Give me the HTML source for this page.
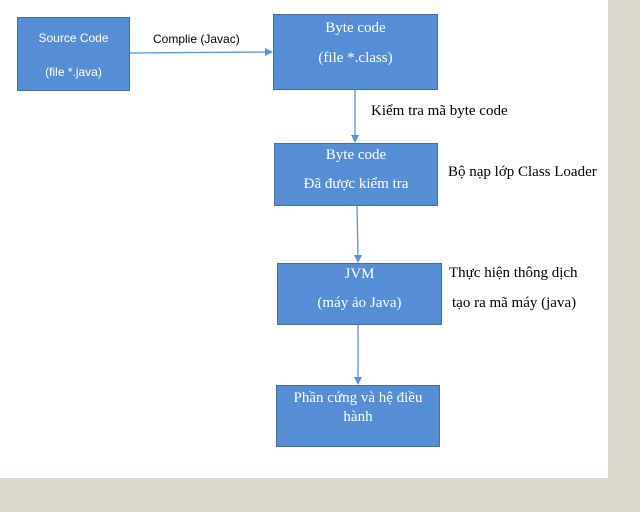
<!DOCTYPE html>
<html><head><meta charset="utf-8"><style>
body{margin:0;width:640px;height:512px;background:#dad8cc;position:relative;overflow:hidden;font-family:"Liberation Serif",serif}
.w{position:absolute;left:0;top:0;width:608px;height:478px;background:#fff}
.b{position:absolute;background:#558ed5;border:1px solid #41719c;color:#fff;text-align:center;box-sizing:border-box;font-size:15px}
.t{position:absolute;font-size:15px;color:#000;white-space:nowrap}
.s{font-family:"Liberation Sans",sans-serif;font-size:12px}
</style></head><body>
<div class="w"></div>
<div class="b s" style="left:17px;top:17px;width:113px;height:74px"><div style="position:absolute;top:13px;width:100%">Source Code</div><div style="position:absolute;top:47px;width:100%">(file *.java)</div></div>
<div class="b" style="left:273px;top:14px;width:165px;height:76px"><div style="position:absolute;top:5px;width:100%">Byte code</div><div style="position:absolute;top:35px;width:100%">(file *.class)</div></div>
<div class="b" style="left:274px;top:143px;width:164px;height:63px"><div style="position:absolute;top:3px;width:100%">Byte code</div><div style="position:absolute;top:32px;width:100%">Đã được kiểm tra</div></div>
<div class="b" style="left:277px;top:263px;width:165px;height:62px"><div style="position:absolute;top:2px;width:100%">JVM</div><div style="position:absolute;top:31px;width:100%">(máy ảo Java)</div></div>
<div class="b" style="left:276px;top:385px;width:164px;height:62px;line-height:19px;padding-top:3px">Phần cứng và hệ điều<br>hành</div>
<div class="t s" style="left:153px;top:32px">Complie (Javac)</div>
<div class="t" style="left:371px;top:103px">Kiểm tra mã byte code</div>
<div class="t" style="left:448px;top:164px">Bộ nạp lớp Class Loader</div>
<div class="t" style="left:449px;top:265px">Thực hiện thông dịch</div>
<div class="t" style="left:452px;top:295px">tạo ra mã máy (java)</div>
<svg width="640" height="512" style="position:absolute;left:0;top:0">
<g stroke="#5b93d8" stroke-width="1.3" fill="#5b93d8">
<line x1="130" y1="53" x2="266" y2="52"/><polygon points="273,52 265,48 265,56" stroke="none"/>
<line x1="355" y1="90" x2="355" y2="136"/><polygon points="355,143 351,135 359,135" stroke="none"/>
<line x1="357" y1="206" x2="358" y2="256"/><polygon points="358,263 354,255 362,255" stroke="none"/>
<line x1="358" y1="325" x2="358" y2="378"/><polygon points="358,385 354,377 362,377" stroke="none"/>
</g></svg>
</body></html>
